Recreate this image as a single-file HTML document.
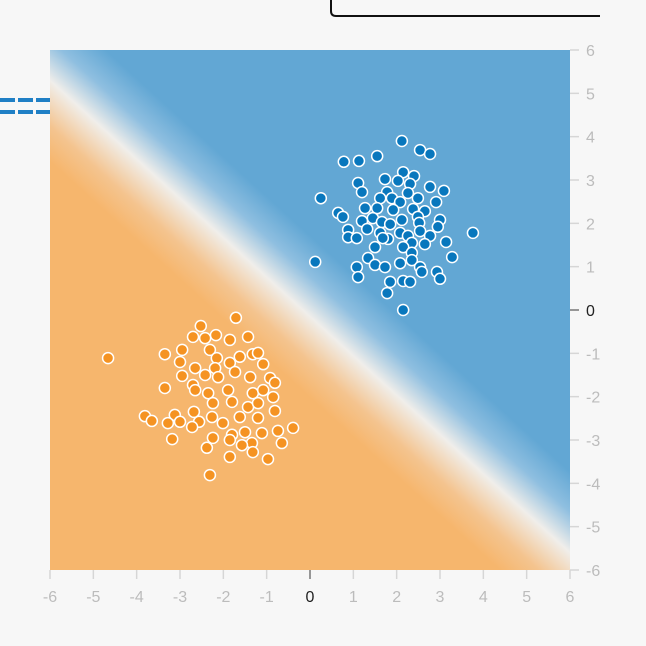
<!DOCTYPE html>
<html><head><meta charset="utf-8">
<style>
html,body{margin:0;padding:0;background:#f7f7f7;}
svg{display:block;font-family:"Liberation Sans",sans-serif;}
</style></head>
<body>
<svg id="chart" width="646" height="646" viewBox="0 0 646 646">
  <defs>
    <linearGradient id="bg" gradientUnits="userSpaceOnUse" x1="269.6" y1="361" x2="350.4" y2="272">
      <stop offset="0" stop-color="#f6b66d"/>
      <stop offset="0.22" stop-color="#f4c48f"/>
      <stop offset="0.5" stop-color="#f0eeea"/>
      <stop offset="0.75" stop-color="#8fbfe0"/>
      <stop offset="1" stop-color="#62a7d4"/>
    </linearGradient>
  </defs>
  <path d="M331 0 V11 Q331 16 336 16 H600" fill="none" stroke="#111" stroke-width="2"/>
  <line x1="0" y1="100" x2="50" y2="100" stroke="#1f7fc5" stroke-width="4" stroke-dasharray="15,3"/>
  <line x1="0" y1="112" x2="50" y2="112" stroke="#1f7fc5" stroke-width="4" stroke-dasharray="15,3"/>
  <rect x="50" y="50" width="520" height="520" fill="url(#bg)"/>
  <g id="axes"></g>
  <g id="points"></g>
</svg>
<script>
const xTicks=[-6,-5,-4,-3,-2,-1,0,1,2,3,4,5,6];
const yTicks=[-6,-5,-4,-3,-2,-1,0,1,2,3,4,5,6];
const blueX=[2.12,2.54,2.77,1.55,1.13,0.78,2.15,2.40,1.73,2.03,1.11,2.31,2.77,3.09,1.20,2.26,1.78,1.62,1.89,2.49,0.25,2.08,2.91,1.27,1.55,1.92,2.38,2.65,0.65,0.76,1.20,1.45,1.66,1.85,2.12,2.49,2.52,3.00,2.95,0.88,1.32,1.62,2.08,2.26,2.54,2.77,3.76,0.88,1.08,1.80,1.68,3.14,1.50,2.35,2.15,2.65,2.35,0.12,1.34,3.28,2.08,2.35,1.08,1.50,1.73,2.54,1.11,2.58,2.93,3.00,1.85,2.15,2.31,1.78,2.15];
const blueY=[3.90,3.69,3.60,3.55,3.44,3.42,3.18,3.09,3.02,2.98,2.93,2.91,2.84,2.75,2.72,2.70,2.72,2.58,2.58,2.58,2.58,2.49,2.49,2.35,2.35,2.31,2.33,2.28,2.24,2.15,2.05,2.12,2.03,1.98,2.08,2.15,2.01,2.08,1.92,1.85,1.87,1.78,1.78,1.71,1.82,1.71,1.78,1.68,1.66,1.64,1.66,1.57,1.45,1.55,1.45,1.52,1.32,1.11,1.20,1.22,1.08,1.15,0.99,1.04,0.99,0.99,0.76,0.88,0.88,0.72,0.65,0.67,0.65,0.39,0.00];
const orangeX=[-1.71,-2.52,-2.70,-2.42,-2.17,-1.85,-1.43,-4.66,-3.35,-2.95,-3.00,-2.31,-2.15,-1.62,-1.32,-1.20,-1.08,-2.65,-2.19,-1.85,-2.95,-2.42,-2.12,-1.73,-1.38,-0.92,-0.81,-3.35,-2.70,-2.65,-2.35,-1.89,-1.32,-1.08,-0.85,-2.24,-1.80,-1.43,-1.20,-0.81,-3.81,-3.65,-3.12,-2.68,-3.00,-3.28,-2.56,-2.26,-2.01,-1.62,-1.20,-2.72,-1.50,-1.80,-1.11,-0.74,-0.39,-3.18,-2.24,-1.85,-1.34,-0.65,-2.38,-1.57,-1.32,-1.85,-0.97,-2.31];
const orangeY=[-0.18,-0.37,-0.62,-0.65,-0.58,-0.69,-0.62,-1.11,-1.02,-0.92,-1.20,-0.92,-1.11,-1.08,-1.02,-0.99,-1.25,-1.34,-1.34,-1.22,-1.52,-1.50,-1.55,-1.43,-1.55,-1.57,-1.68,-1.80,-1.73,-1.85,-1.92,-1.85,-1.92,-1.85,-2.01,-2.15,-2.12,-2.24,-2.15,-2.33,-2.45,-2.56,-2.42,-2.35,-2.58,-2.61,-2.58,-2.47,-2.61,-2.47,-2.49,-2.70,-2.82,-2.88,-2.84,-2.79,-2.72,-2.98,-2.95,-3.00,-3.07,-3.07,-3.18,-3.12,-3.28,-3.39,-3.44,-3.81];

const NS='http://www.w3.org/2000/svg';
const sx=v=>310+v*(520/12);
const sy=v=>310-v*(520/12);
const axes=document.getElementById('axes');
const pts=document.getElementById('points');
function mk(tag,attrs,parent){const e=document.createElementNS(NS,tag);for(const k in attrs)e.setAttribute(k,attrs[k]);parent.appendChild(e);return e;}

xTicks.forEach(t=>{
  const zero=t===0;
  const l=mk('line',{x1:sx(t),x2:sx(t),y1:570,y2:579,stroke:zero?'#777':'#d6d6d6','stroke-width':1.5},axes);
  
  
  const tx=mk('text',{x:sx(t),y:602,'text-anchor':'middle','font-size':16,fill:zero?'#222':'#bcbcbc'},axes);
  tx.textContent=t;
  
  
});
yTicks.forEach(t=>{
  const zero=t===0;
  const l=mk('line',{x1:570,x2:579,y1:sy(t),y2:sy(t),stroke:zero?'#777':'#d6d6d6','stroke-width':1.5},axes);
  
  
  const tx=mk('text',{x:586,y:sy(t)+6,'text-anchor':'start','font-size':16,fill:zero?'#222':'#bcbcbc'},axes);
  tx.textContent=t;
  
  
});
orangeX.forEach((v,i)=>{
  const c=mk('circle',{cx:sx(v),cy:sy(orangeY[i]),r:5.5,fill:'#f59322',stroke:'#fff','stroke-width':1.5},pts);
  
  
});
blueX.forEach((v,i)=>{
  const c=mk('circle',{cx:sx(v),cy:sy(blueY[i]),r:5.5,fill:'#0877bd',stroke:'#fff','stroke-width':1.5},pts);
  
  
});
</script>
</body></html>
